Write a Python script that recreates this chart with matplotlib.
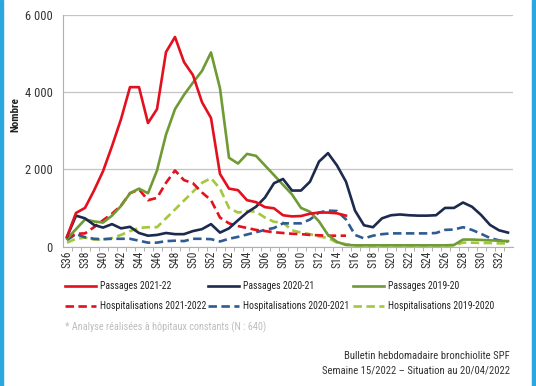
import matplotlib
matplotlib.use('Agg')
import matplotlib.pyplot as plt
import matplotlib.font_manager as fm
from matplotlib.lines import Line2D
from matplotlib.patches import Rectangle
from matplotlib.ticker import FuncFormatter, MultipleLocator

# semaines S36 -> S33
weeks = ['S36', 'S37', 'S38', 'S39', 'S40', 'S41', 'S42', 'S43', 'S44', 'S45',
         'S46', 'S47', 'S48', 'S49', 'S50', 'S51', 'S52', 'S01', 'S02', 'S03',
         'S04', 'S05', 'S06', 'S07', 'S08', 'S09', 'S10', 'S11', 'S12', 'S13',
         'S14', 'S15', 'S16', 'S17', 'S18', 'S19', 'S20', 'S21', 'S22', 'S23',
         'S24', 'S25', 'S26', 'S27', 'S28', 'S29', 'S30', 'S31', 'S32', 'S33']

passages_2122 = [250, 870, 1000, 1450, 1950, 2600, 3300, 4130, 4130, 3200,
                 3560, 5040, 5430, 4780, 4440, 3740, 3330, 1880, 1500, 1460,
                 1200, 1150, 1020, 990, 810, 780, 790, 850, 880, 880,
                 860, 800]
hospit_2122 = [220, 330, 340, 500, 680, 850, 1060, 1380, 1480, 1200,
               1260, 1650, 1970, 1720, 1640, 1400, 1200, 750, 600, 530,
               480, 430, 400, 370, 350, 330, 320, 300, 290, 280,
               280, 280]

passages_2021 = [250, 800, 730, 560, 490, 580, 470, 510, 350, 280,
                 300, 350, 320, 320, 400, 450, 580, 360, 470, 680,
                 880, 1030, 1270, 1640, 1750, 1450, 1450, 1680, 2200, 2420,
                 2100, 1680, 930, 550, 500, 730, 810, 830, 810, 800,
                 800, 810, 1000, 1000, 1140, 1030, 820, 560, 420, 360]
hospit_2021 = [170, 320, 240, 200, 190, 200, 200, 200, 150, 100,
               100, 140, 150, 140, 200, 200, 190, 130, 200, 250,
               310, 370, 430, 480, 600, 600, 600, 700, 880, 930,
               920, 700, 300, 210, 280, 320, 340, 340, 340, 340,
               340, 350, 430, 440, 500, 430, 330, 220, 160, 130]

passages_1920 = [200, 450, 700, 650, 620, 800, 1050, 1380, 1500, 1380,
                 1970, 2900, 3560, 3930, 4250, 4550, 5030, 4100, 2300, 2150,
                 2400, 2350, 2100, 1850, 1600, 1350, 1000, 900, 650, 300,
                 120, 40, 30, 30, 30, 30, 30, 30, 30, 30,
                 30, 30, 30, 40, 180, 180, 170, 160, 150, 140]
hospit_1920 = [100, 200, 230, 180, 180, 220, 300, 400, 480, 500,
               500, 730, 960, 1190, 1420, 1650, 1770, 1500, 1000, 880,
               920, 900, 750, 640, 620, 420, 360, 320, 260, 220,
               100, 60, 30, 30, 30, 30, 30, 30, 30, 30,
               30, 30, 30, 30, 100, 100, 90, 90, 80, 80]

RED = '#e3101e'
NAVY = '#1c2a4d'
OLIVE = '#6f9a34'
BLUE_D = '#2f5b93'
LIME = '#a2c83c'
DASH = (0, (3.2, 1.7))


def pick_condensed():
    # cherche une police étroite installée
    wanted = ['Roboto Condensed', 'Liberation Sans Narrow', 'Open Sans Condensed',
              'Noto Sans', 'DejaVu Sans', 'Open Sans', 'Roboto', 'Lato', 'Inter']
    narrow = [f for f in fm.fontManager.ttflist
              if str(f.stretch) in ('condensed', 'semi-condensed', 'extra-condensed', 'ultra-condensed')
              or 'Condensed' in f.name or 'Narrow' in f.name]
    for fam in wanted:
        for f in narrow:
            if f.name == fam or f.name.startswith(fam):
                return f.name, str(f.stretch)
    return None, 'normal'


fam, stretch = pick_condensed()
if fam:
    plt.rcParams['font.family'] = [fam, 'DejaVu Sans']
    plt.rcParams['font.stretch'] = stretch
    k = 1.0
else:
    plt.rcParams['font.family'] = ['DejaVu Sans']
    k = 0.85

fig = plt.figure(figsize=(5.36, 3.86), dpi=100)
ax = fig.add_axes([62.5 / 536, 1 - 246.5 / 386, 450 / 536, 231.5 / 386])

x_all = list(range(len(weeks)))
x_red = x_all[:len(passages_2122)]
lw = 1.9

ax.plot(x_all, hospit_1920, color=LIME, lw=lw, ls=DASH, zorder=3)
ax.plot(x_all, hospit_2021, color=BLUE_D, lw=lw, ls=DASH, zorder=3)
ax.plot(x_red, hospit_2122, color=RED, lw=lw, ls=DASH, zorder=3)
ax.plot(x_all, passages_1920, color=OLIVE, lw=lw, zorder=4)
ax.plot(x_all, passages_2021, color=NAVY, lw=lw, zorder=4)
ax.plot(x_red, passages_2122, color=RED, lw=lw, zorder=5)

ax.set_xlim(-0.5, len(weeks) - 0.5)
ax.set_ylim(0, 6000)
ax.yaxis.set_major_locator(MultipleLocator(2000))
ax.yaxis.set_major_formatter(FuncFormatter(lambda v, p: f'{int(v):,}'.replace(',', ' ')))
ax.grid(axis='y', color='#c4c4c4', lw=0.9)
ax.set_axisbelow(True)

ax.set_xticks(x_all[::2])
ax.set_xticklabels(weeks[::2], rotation=90, fontsize=8.3 * k, color='#333333')
ax.set_xticks([i + 0.5 for i in x_all[:-1]], minor=True)
ax.tick_params(axis='x', which='major', length=0, pad=3)
ax.tick_params(axis='x', which='minor', length=3, color='#b0b0b0', width=0.7, direction='out')
ax.tick_params(axis='y', length=0, pad=7, labelsize=9 * k, labelcolor='#333333')

for s in ['top', 'right']:
    ax.spines[s].set_visible(False)
for s in ['left', 'bottom']:
    ax.spines[s].set_color('#b0b0b0')
    ax.spines[s].set_linewidth(0.8)

ax.set_ylabel('Nombre', fontsize=8 * k, fontweight='bold', color='#222222')
ax.yaxis.set_label_coords((20 - 62.5) / 450, (246.5 - 115) / 231.5)

# légende placée à la main (3 colonnes, 2 lignes)
legend_items = [
    ('Passages 2021-22', RED, '-', 65, 286),
    ('Passages 2020-21', NAVY, '-', 208, 286),
    ('Passages 2019-20', OLIVE, '-', 353, 286),
    ('Hospitalisations 2021-2022', RED, DASH, 65, 306),
    ('Hospitalisations 2020-2021', BLUE_D, DASH, 208, 306),
    ('Hospitalisations 2019-2020', LIME, DASH, 353, 306),
]
for label, col, ls, x0, y0 in legend_items:
    yf = 1 - y0 / 386
    fig.add_artist(Line2D([x0 / 536, (x0 + 31) / 536], [yf, yf], color=col, lw=lw, ls=ls,
                          transform=fig.transFigure))
    fig.text((x0 + 35) / 536, yf, label, fontsize=7 * k, color='#222222', va='center', ha='left')

fig.text(65 / 536, 1 - 327 / 386, '* Analyse réalisées à hôpitaux constants (N : 640)',
         fontsize=7.3 * k, color='#bdbdbd', va='center', ha='left')
fig.text(510 / 536, 1 - 356 / 386, 'Bulletin hebdomadaire bronchiolite SPF',
         fontsize=7.7 * k, color='#333333', va='center', ha='right')
fig.text(510 / 536, 1 - 370 / 386, 'Semaine 15/2022 \u2013 Situation au 20/04/2022',
         fontsize=7.7 * k, color='#333333', va='center', ha='right')

# bordures bleues
fig.patches.append(Rectangle((0, 0), 3 / 536, 1, transform=fig.transFigure, color='#2aa7df', zorder=10))
fig.patches.append(Rectangle((532 / 536, 0), 4 / 536, 1, transform=fig.transFigure, color='#2aa7df', zorder=10))

fig.savefig('out.png', dpi=100)
